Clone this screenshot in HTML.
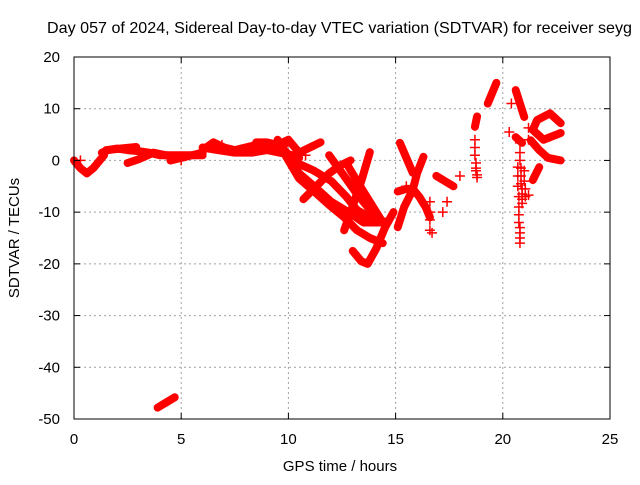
<!DOCTYPE html>
<html><head><meta charset="utf-8"><style>
body{margin:0;background:#fff}
svg text{font-family:"Liberation Sans",sans-serif;font-size:15px;fill:#000}
</style></head><body>
<svg id="chart" width="640" height="480" viewBox="0 0 640 480" xmlns="http://www.w3.org/2000/svg">
<rect width="640" height="480" fill="#fff"/>
<text x="47" y="33" style="font-size:16px" textLength="585" lengthAdjust="spacingAndGlyphs">Day 057 of 2024, Sidereal Day-to-day VTEC variation (SDTVAR) for receiver seyg</text>
<text transform="translate(19,238) rotate(-90)" text-anchor="middle">SDTVAR / TECUs</text>
<text x="340" y="471" text-anchor="middle">GPS time / hours</text>
<g id="grid"></g><g id="marks"></g><g id="axes"></g>
</svg>
<script>
const xTicks=[0,5,10,15,20,25];
const yTicks=[-50,-40,-30,-20,-10,0,10,20];
// thick band tracks
const bandHours=[
[0,0.3,0.6,0.9,1.2,1.4],
[1.3,1.6,2,2.5,3,3.5,4,4.5,5,5.5,6],
[1.5,2.2,2.9],
[2.5,3,3.7,4.3,5],
[4.5,5,5.5,6],
[6,6.5,7,7.5,8,8.5,9,9.5,10],
[6,6.7,7.5,8.3,9,9.6,10.2,10.5],
[8.5,9,9.5,10,10.5,11,11.5],
[9.5,9.9,10.5,11.2,11.9,12.6,13.2,13.8,14.4],
[9.8,10.4,11.2,12,12.7,13.2,13.8,14.4],
[10,10.5,11.2,12,12.8,13.5,14,14.4],
[10.7,11.3,11.9,12.4,12.9],
[11.9,12.6,13.2,13.8,14.3],
[12.7,13.2,13.8,14.4],
[13.8,13.4,12.9,12.6],
[13,13.4,13.7,14.1,14.5,14.9],
[15.2,15.5,15.8],
[16.3,16,15.8,15.4,15.1],
[15.1,15.5,15.8,16.1,16.4,16.6],
[16.9,17.3,17.7],
[18.7,18.8],
[19.3,19.5,19.7],
[20.6,20.8,21],
[20.6,20.9],
[21.4,21.7],
[22.7,22.2,21.6,21.4,21.9,22.7],
[21.3,21.7,22.1,22.7],
[3.9,4.3,4.7]
];
const bandValues=[
[0,-1.5,-2.5,-1.5,0,1],
[1.5,2,2.3,2,1.8,1.5,1,1,1,1,1.5],
[2,2.3,2.6],
[-0.5,0.2,1.5,1,0.5],
[0,0.5,1,1],
[2,3.5,2.5,2,2.5,3,3,2.5,3.5],
[2.5,2,1.5,1.5,2,1.5,1,0.5],
[3.5,3.5,3,4,1.5,2.5,3.5],
[4,0.7,-3.5,-6,-8.6,-11,-13.5,-15,-16],
[2,-0.5,-2,-4,-7,-9.6,-11,-12],
[1,-2.5,-5,-8,-10,-12,-12,-12],
[-7.5,-5,-2.5,-1,0],
[1,-3,-6.5,-9.5,-11.5],
[-0.5,-4,-8,-12],
[1.6,-4,-10,-13.5],
[-17.5,-19.5,-20,-17,-13,-10],
[3.4,0.5,-2.4],
[0.7,-2.5,-5.7,-9,-12.9],
[-6,-5.5,-5.5,-7,-9,-11],
[-3,-4,-5],
[6.5,8.5],
[11,13,15],
[13.6,11,8.4],
[4.5,3.4],
[-3.8,-1.3],
[7.2,9.1,7.8,5.9,4,5.3],
[3.9,2,0.5,0],
[-47.8,-46.8,-45.8]
];
// sparse plus-marker tracks
const plusHours=[
[18.7,18.7,18.7,18.75,18.75,18.75,18.8,18.8],
[20.8,20.8,20.8,20.85,20.85,20.85,20.9,20.9,20.9,20.9],
[20.7,20.7,20.7,20.75,20.75,20.75,20.75,20.8,20.8,20.8,20.8],
[21,21,21.05,21.05],
[16.6,16.6,16.6,16.6,16.7,17.2,17.4],
[20.4,20.3,21.2,21.2,21.2,18,10.8,14.5],
[0.3,5,6.9,9.5,15.5]
];
const plusValues=[
[4,2.5,1,-0.5,-1.5,-2,-2.8,-3.3],
[3.4,1.5,0,-1.5,-3,-4.5,-5.5,-6.5,-7.5,-8.3],
[-1.3,-3,-5,-7,-9,-10.5,-12,-13,-14,-15,-16],
[-2,-4,-5.5,-7],
[-8,-10,-11.5,-13.5,-14,-10,-8],
[11,5.5,6.3,4,-6.7,-3,1,-12],
[0,0,3,2,-5]
];
const X0=74,X1=610,Y0=57,Y1=419;
const sx=h=>X0+(h-0)/(25-0)*(X1-X0);
const sy=v=>Y1-(v+50)/(20+50)*(Y1-Y0);
const NS='http://www.w3.org/2000/svg';
const mk=(t,a,p)=>{const e=document.createElementNS(NS,t);for(const k in a)e.setAttribute(k,a[k]);p.appendChild(e);return e;};
const grid=document.getElementById('grid'),marks=document.getElementById('marks'),axes=document.getElementById('axes');
xTicks.forEach(t=>{
 if(t>0&&t<25){const g=mk('line',{x1:sx(t),x2:sx(t),y1:Y0,y2:Y1,stroke:'#a0a0a0','stroke-dasharray':'2,3'},grid);
 
 }
 const l=mk('line',{x1:sx(t),x2:sx(t),y1:Y1,y2:Y1-6,stroke:'#000'},axes);
 
 
 const l2=mk('line',{x1:sx(t),x2:sx(t),y1:Y0,y2:Y0+6,stroke:'#000'},axes);
 
 
 const tx=mk('text',{x:sx(t),y:Y1+25,'text-anchor':'middle'},axes);tx.textContent=t;
 
 
});
yTicks.forEach(t=>{
 if(t>-50&&t<20){const g=mk('line',{x1:X0,x2:X1,y1:sy(t),y2:sy(t),stroke:'#a0a0a0','stroke-dasharray':'2,3'},grid);
 
 }
 const l=mk('line',{x1:X0,x2:X0+6,y1:sy(t),y2:sy(t),stroke:'#000'},axes);
 
 
 const l2=mk('line',{x1:X1,x2:X1-6,y1:sy(t),y2:sy(t),stroke:'#000'},axes);
 
 
 const tx=mk('text',{x:X0-14,y:sy(t)+5,'text-anchor':'end'},axes);tx.textContent=t;
 
 
});
const fr=mk('rect',{x:X0,y:Y0,width:X1-X0,height:Y1-Y0,fill:'none',stroke:'#000'},axes);


bandHours.forEach((hs,i)=>{
 const pts=hs.map((h,j)=>sx(h)+','+sy(bandValues[i][j])).join(' ');
 const p=mk('polyline',{points:pts,fill:'none',stroke:'#ff0000','stroke-width':8,'stroke-linejoin':'round','stroke-linecap':'round'},marks);
 
 
});
plusHours.forEach((hs,i)=>{
 hs.forEach((h,j)=>{
  const x=sx(h),y=sy(plusValues[i][j]);
  const p=mk('path',{d:`M${x-5},${y}H${x+5}M${x},${y-5}V${y+5}`,stroke:'#ff0000','stroke-width':1.5,fill:'none'},marks);
  
  
 });
});
</script>
</body></html>
